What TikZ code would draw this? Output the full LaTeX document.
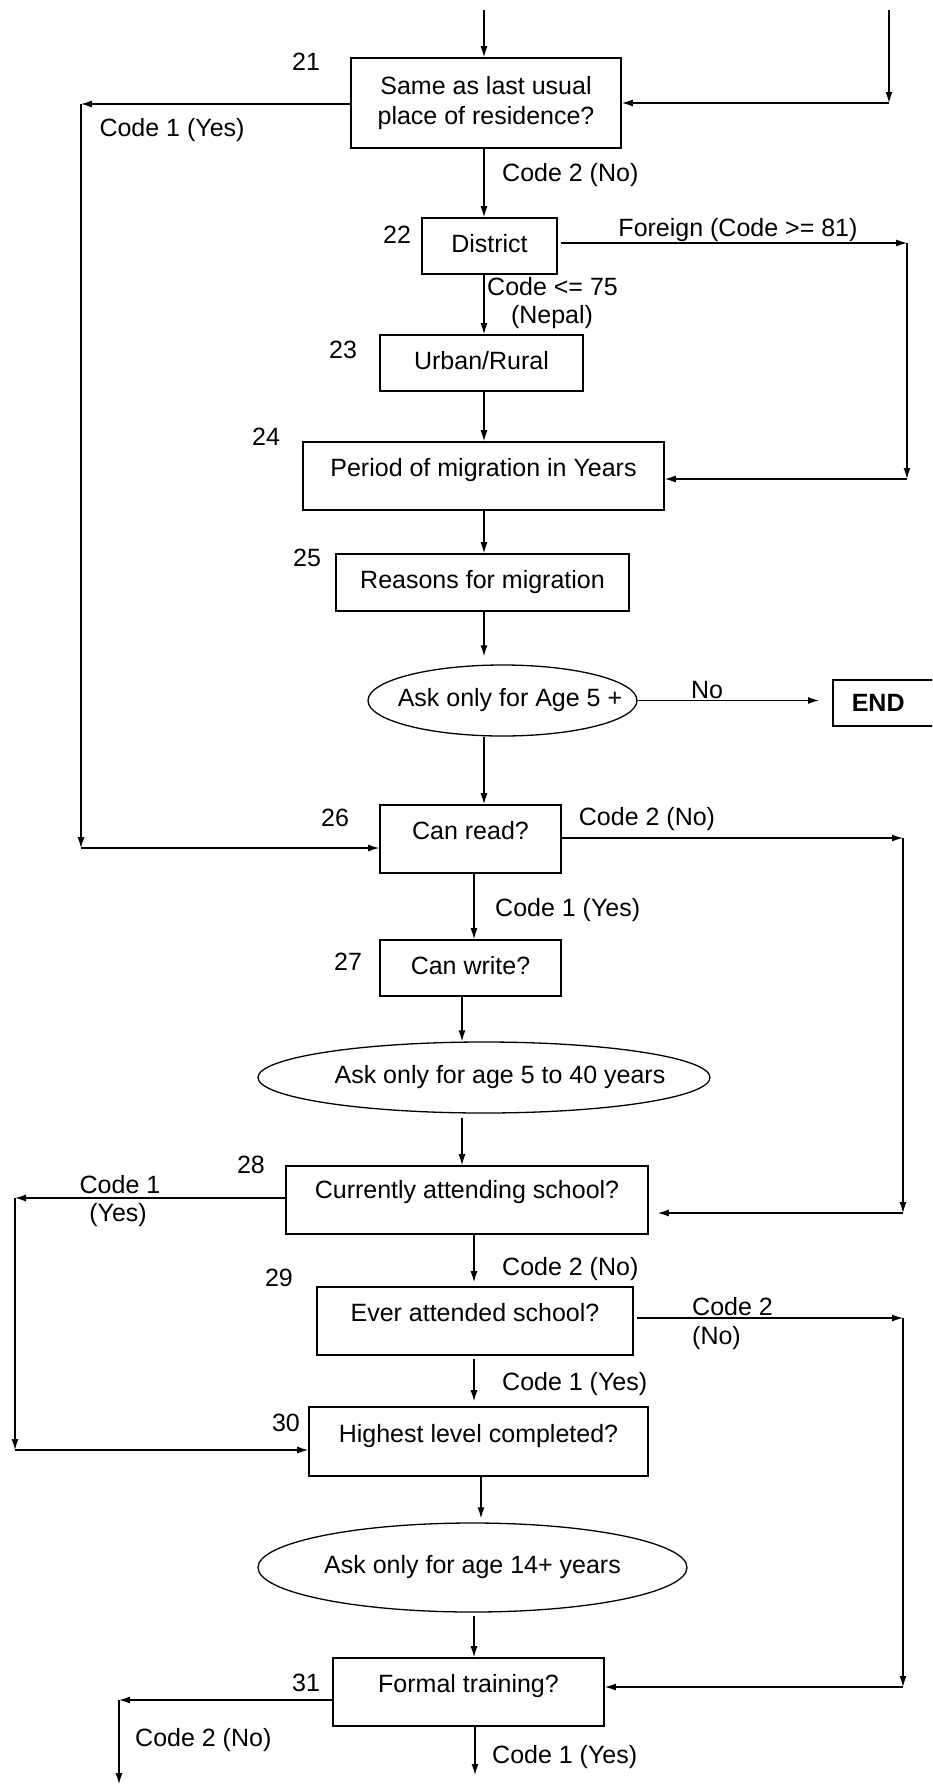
\documentclass[tikz,border=0pt]{standalone}
\usepackage{fontspec}
\setmainfont{Liberation Sans}
\usetikzlibrary{arrows.meta,shapes.geometric}
\begin{document}
\begin{tikzpicture}[x=1pt,y=-1pt,
  every node/.style={font=\fontsize{25}{30}\selectfont},
  box/.style={draw,line width=1.6pt,rectangle,inner sep=0pt,align=center},
  one/.style={text height=18pt,text depth=#1},
  one/.default=5pt,
  oval/.style={draw,line width=1.3pt,ellipse,inner sep=0pt},
  arr/.style={line width=1.3pt,-{Latex[length=11pt,width=7pt]}},
  lbl/.style={inner sep=0pt,text height=18pt,text depth=5pt}]
\clip (0,0) rectangle (932,1785);
% boxes
\node[box,minimum width=270pt,minimum height=90pt] (b21) at (486,103) {Same as last usual\\place of residence?};
\node[box,one=6pt,minimum width=135pt,minimum height=56pt] (b22) at (489.5,246) {District};
\node[box,one=6pt,minimum width=203pt,minimum height=56pt] (b23) at (481.5,363) {Urban/Rural};
\node[box,one=18pt,minimum width=361pt,minimum height=68pt] (b24) at (483.5,476) {Period of migration in Years};
\node[box,one=6pt,minimum width=293pt,minimum height=57pt] (b25) at (482.5,582.5) {Reasons for migration};
\node[oval,minimum width=269pt,minimum height=71pt] (e1) at (502.5,700.5) {\makebox[0pt]{\hspace{15pt}Ask only for Age 5 +}};
\node[draw,line width=1.6pt,anchor=west,minimum height=46pt,text width=80pt,align=left,inner xsep=19pt,inner ysep=0pt,font=\fontsize{25}{30}\selectfont\bfseries] (end) at (832,703) {END};
\node[box,one=18pt,minimum width=181pt,minimum height=68pt] (b26) at (470.5,839) {Can read?};
\node[box,one=6pt,minimum width=181pt,minimum height=56pt] (b27) at (470.5,968) {Can write?};
\node[oval,minimum width=452pt,minimum height=71pt] (e2) at (484,1077.5) {\makebox[0pt]{\hspace{32pt}Ask only for age 5 to 40 years}};
\node[box,one=22pt,minimum width=362pt,minimum height=68pt] (b28) at (467,1200) {Currently attending school?};
\node[box,one=18pt,minimum width=316pt,minimum height=68pt] (b29) at (475,1321) {Ever attended school?};
\node[box,one=16pt,minimum width=339pt,minimum height=69pt] (b30) at (478.5,1441.5) {Highest level completed?};
\node[oval,minimum width=429pt,minimum height=89pt] (e3) at (472.5,1567.5) {\makebox[0pt]{Ask only for age 14+ years}};
\node[box,one=18pt,minimum width=271pt,minimum height=68pt] (b31) at (468.5,1692) {Formal training?};
% numbers
\node[lbl] (n21) at (306,64) {21};
\node[lbl] (n22) at (397,237) {22};
\node[lbl] (n23) at (343,352) {23};
\node[lbl] (n24) at (266,439) {24};
\node[lbl] (n25) at (307,560) {25};
\node[lbl] (n26) at (335,820) {26};
\node[lbl] (n27) at (348,964) {27};
\node[lbl] (n28) at (251,1167) {28};
\node[lbl] (n29) at (279,1280) {29};
\node[lbl] (n30) at (286,1425) {30};
\node[lbl] (n31) at (306,1685) {31};
% edge labels
\node[lbl] (t1) at (172,130) {Code 1 (Yes)};
\node[lbl,anchor=west] (t2) at (502,175) {Code 2 (No)};
\node[lbl] (t3) at (738,230) {Foreign (Code >= 81)};
\node[lbl,anchor=west] (t4) at (487,289) {Code <= 75};
\node[lbl] (t5) at (552,317) {(Nepal)};
\node[lbl] (t6) at (707,692) {No};
\node[lbl] (t7) at (647,819) {Code 2 (No)};
\node[lbl,anchor=west] (t8) at (495,910) {Code 1 (Yes)};
\node[lbl] (t9) at (120,1187) {Code 1};
\node[lbl] (t10) at (118,1215) {(Yes)};
\node[lbl,anchor=west] (t11) at (502,1269) {Code 2 (No)};
\node[lbl,anchor=west] (t12) at (692,1309) {Code 2};
\node[lbl,anchor=west] (t13) at (692,1338) {(No)};
\node[lbl,anchor=west] (t14) at (502,1384) {Code 1 (Yes)};
\node[lbl,anchor=west] (t15) at (135,1740) {Code 2 (No)};
\node[lbl,anchor=west] (t16) at (492,1757) {Code 1 (Yes)};
% coordinates
\coordinate (top) at (484,10);
\coordinate (tr) at (889,10);
\coordinate (trb) at (889,103);
\coordinate (l1) at (81,104);
\coordinate (l1b) at (81,848);
\coordinate (f1) at (907,243);
\coordinate (f2) at (907,479);
\coordinate (c2) at (474,0);
\coordinate (c3) at (462,0);
\coordinate (c4) at (481,0);
\coordinate (r1) at (903,838);
\coordinate (r2) at (903,1213);
\coordinate (k1) at (15,1198);
\coordinate (k2) at (15,1450);
\coordinate (s1) at (903,1318);
\coordinate (s2) at (903,1687);
\coordinate (g1) at (119,1700);
\coordinate (g2) at (119,1784);
\coordinate (bot) at (475,1775);
% connectors
\draw[arr] (top) -- (b21.north -| top);
\draw[arr] (tr) -- (trb);
\draw[arr] (trb) -- (b21.east |- trb);
\draw[arr] (b21.west |- l1) -- (l1);
\draw[arr] (l1) -- (l1b);
\draw[arr] (l1b) -- (b26.west |- l1b);
\draw[arr] (b21.south -| top) -- (b22.north -| top);
\draw[arr,shorten <=3pt] (b22.east |- f1) -- (f1);
\draw[arr] (f1) -- (f2);
\draw[arr] (f2) -- (b24.east |- f2);
\draw[arr] (b22.south -| top) -- (b23.north -| top);
\draw[arr] (b23.south -| top) -- (b24.north -| top);
\draw[arr] (b24.south -| top) -- (b25.north -| top);
\draw[arr,shorten >=8pt] (b25.south -| top) -- (e1.north -| top);
\draw[arr,shorten >=13pt] (e1.east) -- (end.west |- e1.east);
\draw[arr] (e1.south -| top) -- (b26.north -| top);
\draw[arr] (b26.east |- r1) -- (r1);
\draw[arr] (r1) -- (r2);
\draw[arr,shorten >=9pt] (r2) -- (b28.east |- r2);
\draw[arr] (b26.south -| c2) -- (b27.north -| c2);
\draw[arr] (b27.south -| c3) -- (e2.north -| c3);
\draw[arr,shorten <=4pt] (e2.south -| c3) -- (b28.north -| c3);
\draw[arr] (b28.west |- k1) -- (k1);
\draw[arr] (k1) -- (k2);
\draw[arr] (k2) -- (b30.west |- k2);
\draw[arr,shorten >=4pt] (b28.south -| c2) -- (b29.north -| c2);
\draw[arr,shorten <=3pt] (b29.east |- s1) -- (s1);
\draw[arr] (s1) -- (s2);
\draw[arr] (s2) -- (b31.east |- s2);
\draw[arr,shorten <=3pt,shorten >=5pt] (b29.south -| c2) -- (b30.north -| c2);
\draw[arr,shorten >=4pt] (b30.south -| c4) -- (e3.north -| c4);
\draw[arr,shorten <=3pt] (e3.south -| c2) -- (b31.north -| c2);
\draw[arr] (b31.west |- g1) -- (g1);
\draw[arr] (g1) -- (g2);
\draw[arr] (b31.south -| bot) -- (bot);
\end{tikzpicture}
\end{document}
